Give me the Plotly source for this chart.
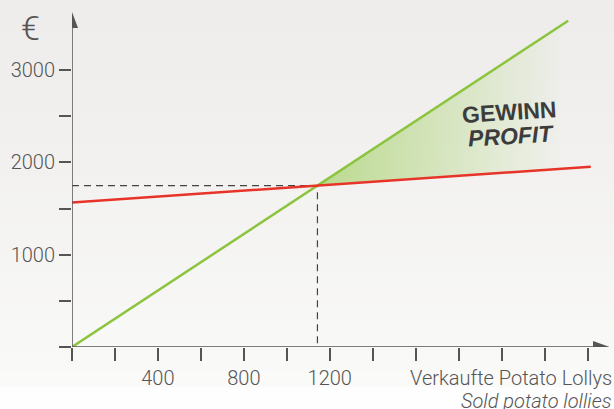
import numpy as np
import plotly.graph_objects as go

# -- data ---------------------------------------------------------------------
cost_units = [0, 2415]
cost_values = [1565, 1953]
revenue_units = [0, 2310]
revenue_values = [0, 3535]

x_tickvals = list(range(0, 2401, 200))
x_ticktext = ["" if v not in (400, 800, 1200) else str(v) for v in x_tickvals]
y_tickvals = list(range(0, 3001, 500))
y_ticktext = ["" if v % 1000 or v == 0 else str(v) for v in y_tickvals]

GREEN = "#8cc43e"
RED = "#e83428"
AXIS = "#555555"
FONT = "Roboto"
LIGHT = dict(family=FONT, weight=300, color=AXIS)

# break-even point from the two lines
c_slope = (cost_values[1] - cost_values[0]) / (cost_units[1] - cost_units[0])
r_slope = (revenue_values[1] - revenue_values[0]) / (revenue_units[1] - revenue_units[0])
be_x = (cost_values[0] - revenue_values[0]) / (r_slope - c_slope)
be_y = revenue_values[0] + r_slope * be_x

# profit polygon
cost_at_end = float(np.interp(revenue_units[1], cost_units, cost_values))
poly_x = [be_x, revenue_units[1], revenue_units[1], be_x]
poly_y = [be_y, revenue_values[1], cost_at_end, be_y]

X_MAX = 2500
Y_MAX = 3694
PLOT_TOP, PLOT_H, PLOT_L, PLOT_W = 6, 341, 72, 537


def py2paper(py):
    return (PLOT_TOP + PLOT_H - py) / PLOT_H


def px2paper(px):
    return (px - PLOT_L) / PLOT_W


traces = []

traces.append(go.Scatter(
    x=poly_x, y=poly_y, mode="none", fill="toself",
    fillgradient=dict(
        type="horizontal",
        colorscale=[[0, "rgba(141,198,63,0.55)"], [1, "rgba(141,198,63,0.0)"]],
    ),
    hoverinfo="skip", showlegend=False,
))

# dashed guides to the break-even point
traces.append(go.Scatter(
    x=[0, be_x, be_x], y=[be_y, be_y, 0], mode="lines",
    line=dict(color="#444444", width=1.2, dash="7px,5px"),
    hoverinfo="skip", showlegend=False,
))

traces.append(go.Scatter(
    x=revenue_units, y=revenue_values, mode="lines",
    line=dict(color=GREEN, width=2.5), showlegend=False,
))
traces.append(go.Scatter(
    x=cost_units, y=cost_values, mode="lines",
    line=dict(color=RED, width=2.5), showlegend=False,
))

fig = go.Figure(data=traces)

# axis px -> data helpers for the arrows
px_x = 200 / 42.95
px_y = 1000 / 92.3

shapes = []

# soft vertical background gradient, stepped in thin bands
top_rgb = np.array([238, 237, 235])
low_rgb = np.array([250, 250, 249])
n_bands = 24
edges = np.linspace(0, 387, n_bands + 1)
for i in range(n_bands):
    t = (i + 0.5) / n_bands
    r, g, b = (top_rgb + (low_rgb - top_rgb) * t ** 1.3).round().astype(int)
    shapes.append(dict(
        type="rect", xref="paper", yref="paper", x0=-0.2, x1=1.1,
        y0=py2paper(edges[i + 1]) - 0.001, y1=py2paper(edges[i]) + 0.001,
        fillcolor=f"rgb({r},{g},{b})", line_width=0, layer="below",
    ))

shapes += [
    # y axis
    dict(type="line", xref="x", yref="y", x0=0, x1=0, y0=0, y1=Y_MAX - 21 * px_y,
         line=dict(color=AXIS, width=1.5)),
    dict(type="path", xref="x", yref="y",
         path=f"M {-6*px_x},{Y_MAX-22*px_y} L {6*px_x},{Y_MAX-22*px_y} L 0,{Y_MAX-6*px_y} Z",
         fillcolor=AXIS, line_width=0),
    # x axis
    dict(type="line", xref="x", yref="y", x0=0, x1=X_MAX - 14 * px_x, y0=0, y1=0,
         line=dict(color=AXIS, width=1.5)),
    dict(type="path", xref="x", yref="y",
         path=f"M {X_MAX-16*px_x},{-6*px_y} L {X_MAX-16*px_x},{6*px_y} L {X_MAX+1*px_x},0 Z",
         fillcolor=AXIS, line_width=0),
]

annotations = [
    dict(text="€", x=px2paper(30), y=py2paper(28), xref="paper", yref="paper",
         xanchor="center", yanchor="middle", showarrow=False,
         font=dict(size=34, **LIGHT)),
    dict(text="<b>GEWINN</b>", x=2038, y=2546, xref="x", yref="y", showarrow=False,
         xanchor="center", yanchor="middle", textangle=-3.5,
         font=dict(size=23, color="#3c3c3c", family="Liberation Sans")),
    dict(text="<b><i>PROFIT</i></b>", x=2043, y=2286, xref="x", yref="y", showarrow=False,
         xanchor="center", yanchor="middle", textangle=-3.5,
         font=dict(size=23, color="#3c3c3c", family="Liberation Sans")),
    dict(text="Verkaufte Potato Lollys", x=px2paper(614), y=py2paper(378),
         xref="paper", yref="paper", xanchor="right", yanchor="middle",
         showarrow=False, font=dict(size=20, **LIGHT)),
    dict(text="<i>Sold potato lollies</i>", x=px2paper(614), y=py2paper(401),
         xref="paper", yref="paper", xanchor="right", yanchor="middle",
         showarrow=False, font=dict(size=20, **LIGHT)),
]

fig.update_layout(
    width=614, height=409,
    paper_bgcolor="#fefefe", plot_bgcolor="rgba(0,0,0,0)",
    margin=dict(l=PLOT_L, r=614 - PLOT_L - PLOT_W, t=PLOT_TOP, b=409 - PLOT_TOP - PLOT_H),
    showlegend=False,
    shapes=shapes,
    annotations=annotations,
    xaxis=dict(
        range=[0, X_MAX], showgrid=False, zeroline=False, showline=False,
        tickvals=x_tickvals, ticktext=x_ticktext,
        ticks="outside", ticklen=13, tickwidth=1.5, tickcolor=AXIS,
        tickfont=dict(size=20, **LIGHT),
    ),
    yaxis=dict(
        range=[0, Y_MAX], showgrid=False, zeroline=False, showline=False,
        tickvals=y_tickvals, ticktext=y_ticktext,
        ticks="outside", ticklen=12, tickwidth=1.5, tickcolor=AXIS,
        tickfont=dict(size=20, **LIGHT),
    ),
)

fig.write_html("out.html", config={"displayModeBar": False},
               post_script="document.body.style.margin='0';")
